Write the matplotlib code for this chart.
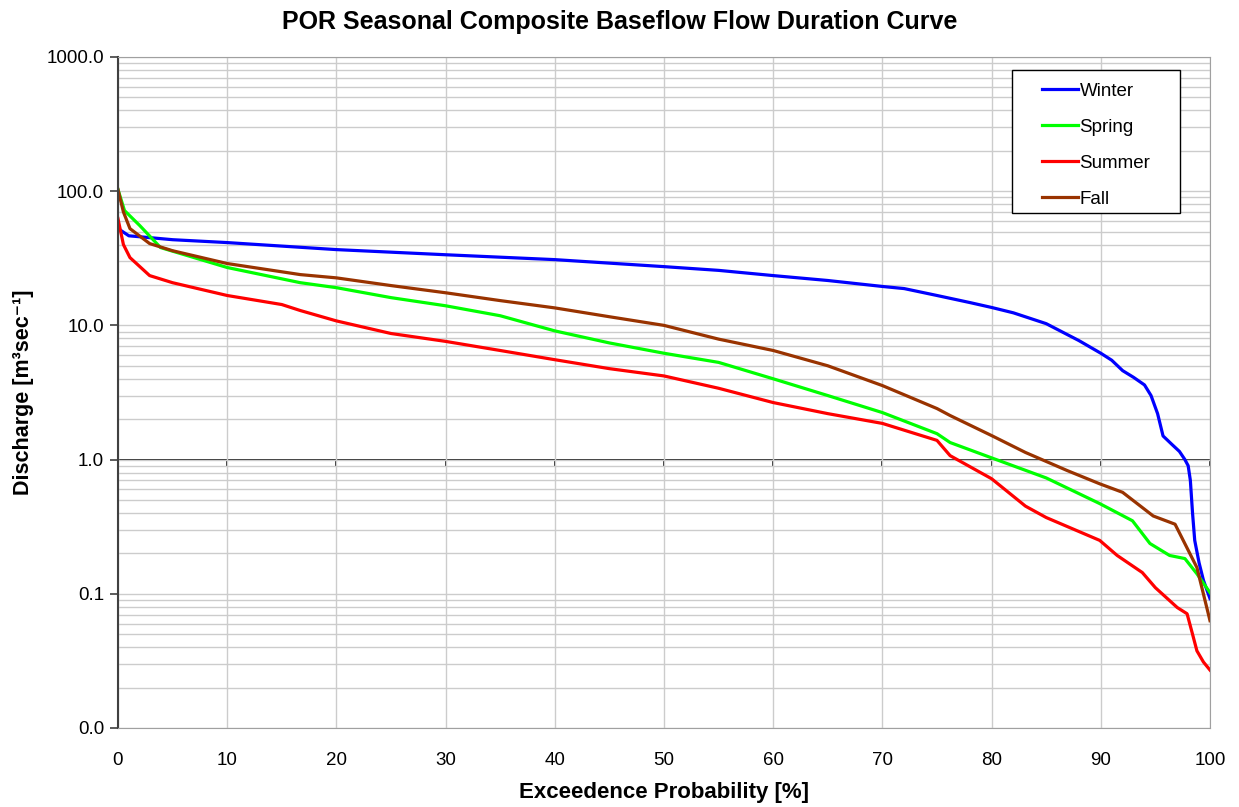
import numpy as np
import matplotlib
matplotlib.use("Agg")
import matplotlib.pyplot as plt
from matplotlib.patches import Rectangle
from matplotlib.ticker import FixedLocator, NullFormatter

plt.rcParams['font.family'] = ['Liberation Sans', 'DejaVu Sans']

# exceedence probability [%] and discharge [m3/s]
winter_x = [0, 1, 3, 5, 10, 20, 30, 40, 50, 55, 60, 65, 70, 72, 75, 78, 80, 82, 85, 88,
            90, 91, 92, 93, 94, 94.6, 95.2, 95.7, 96.5, 97.2, 97.7, 98.0, 98.2, 98.4, 98.6,
            99.0, 99.4, 100]
winter_y = [52.7, 46.5, 45.0, 43.5, 41.4, 36.7, 33.6, 30.9, 27.4, 25.7, 23.5, 21.6, 19.5, 18.8,
            16.7, 14.8, 13.6, 12.4, 10.3, 7.7, 6.2, 5.5, 4.6, 4.1, 3.6, 3.0, 2.2, 1.5, 1.3,
            1.15, 1.0, 0.9, 0.70, 0.4, 0.25, 0.17, 0.126, 0.092]

spring_x = [0, 0.6, 2, 3.9, 10, 16.7, 20, 25, 30, 35, 40, 45, 50, 55, 60, 65, 70, 75, 76.2,
            80, 85, 89.9, 92.9, 94.5, 96.3, 97.7, 98.8, 100]
spring_y = [103, 71.7, 55.4, 38, 27, 20.8, 19.1, 16.1, 14.0, 11.8, 9.1, 7.4, 6.2, 5.3, 4.0,
            3.0, 2.24, 1.56, 1.34, 1.03, 0.73, 0.47, 0.35, 0.237, 0.193, 0.183, 0.141, 0.102]

summer_x = [0, 0.5, 1.1, 2.9, 5, 10, 15, 16.7, 20, 25, 30, 35, 40, 45, 50, 55, 60, 65, 70, 75,
            76.2, 80, 83.1, 85, 89.9, 91.5, 93.8, 95, 97, 97.9, 98.4, 98.8, 99.4, 100]
summer_y = [62.5, 40, 32, 23.5, 20.8, 16.7, 14.3, 12.9, 10.8, 8.7, 7.6, 6.5, 5.55, 4.76, 4.2,
            3.4, 2.66, 2.2, 1.86, 1.39, 1.07, 0.72, 0.45, 0.37, 0.25, 0.193, 0.144, 0.111,
            0.079, 0.071, 0.05, 0.0376, 0.031, 0.027]

fall_x = [0, 0.5, 1.1, 2.9, 5, 10, 16.7, 20, 25, 30, 35, 40, 45, 50, 55, 60, 65, 70, 75, 76.2,
          80, 83.1, 86.9, 89.9, 92, 94.8, 96.8, 98.8, 100]
fall_y = [103, 70, 52.6, 40.7, 36, 28.9, 23.9, 22.6, 19.8, 17.5, 15.3, 13.5, 11.6, 10.0, 7.9,
          6.5, 5.0, 3.56, 2.4, 2.13, 1.51, 1.13, 0.83, 0.66, 0.57, 0.38, 0.33, 0.157, 0.063]

x_ticks = [0, 10, 20, 30, 40, 50, 60, 70, 80, 90, 100]
y_ticks = [0.01, 0.1, 1, 10, 100, 1000]
y_labels = ["0.0", "0.1", "1.0", "10.0", "100.0", "1000.0"]

fig = plt.figure(figsize=(12.39, 8.07), dpi=100)
ax = fig.add_axes([0.0952, 0.0979, 0.8814, 0.8315])

ax.plot(winter_x, winter_y, color='#0000ff', lw=2.3, label='Winter')
ax.plot(spring_x, spring_y, color='#00ff00', lw=2.3, label='Spring')
ax.plot(summer_x, summer_y, color='#ff0000', lw=2.3, label='Summer')
ax.plot(fall_x, fall_y, color='#993300', lw=2.3, label='Fall')

ax.set_yscale('log')
ax.set_xlim(0, 100)
ax.set_ylim(0.01, 1000)
ax.set_xticks(x_ticks)
ax.set_yticks(y_ticks)
ax.set_yticklabels(y_labels)
ax.yaxis.set_minor_locator(FixedLocator([m * d for d in y_ticks[:-1] for m in range(2, 10)]))
ax.yaxis.set_minor_formatter(NullFormatter())

ax.grid(True, which='both', color='#cccccc', lw=1)
ax.set_axisbelow(True)
ax.tick_params(axis='x', length=0, labelsize=13.5, pad=17)
ax.tick_params(axis='y', which='major', length=6, width=1.2, color='#404040', labelsize=13.5, pad=4)
ax.tick_params(axis='y', which='minor', length=0)
for s in ['top', 'right', 'bottom']:
    ax.spines[s].set_color('#a0a0a0')
ax.spines['left'].set_color('#404040')
ax.spines['left'].set_linewidth(1.5)

# horizontal axis crosses at 1.0
sec = ax.secondary_xaxis(0.4)
sec.set_xticks(x_ticks)
sec.xaxis.set_ticks_position('bottom')
sec.tick_params(axis='x', direction='out', length=5, width=1.2, color='black', labelbottom=False, labeltop=False)
for s in sec.spines.values():
    s.set_color('black')
    s.set_linewidth(1.2)

ax.set_xlabel('Exceedence Probability [%]', fontsize=16, fontweight='bold', labelpad=10)
ax.set_ylabel('Discharge [m³sec⁻¹]', fontsize=15.5, fontweight='bold', labelpad=9)
fig.suptitle('POR Seasonal Composite Baseflow Flow Duration Curve', fontsize=18,
             fontweight='bold', y=0.987)

# legend box drawn separately so its padding can match the original
ax.add_patch(Rectangle((0.8187, 0.7675), 0.1538, 0.2131, transform=ax.transAxes,
                       facecolor='white', edgecolor='black', lw=1, zorder=4.5))
leg = ax.legend(loc='upper left', bbox_to_anchor=(0.8462, 0.9615), fontsize=13.5, frameon=False,
                handlelength=1.9, handletextpad=0.1, labelspacing=1.0, borderpad=0,
                borderaxespad=0)

fig.savefig('out.png', dpi=100)
